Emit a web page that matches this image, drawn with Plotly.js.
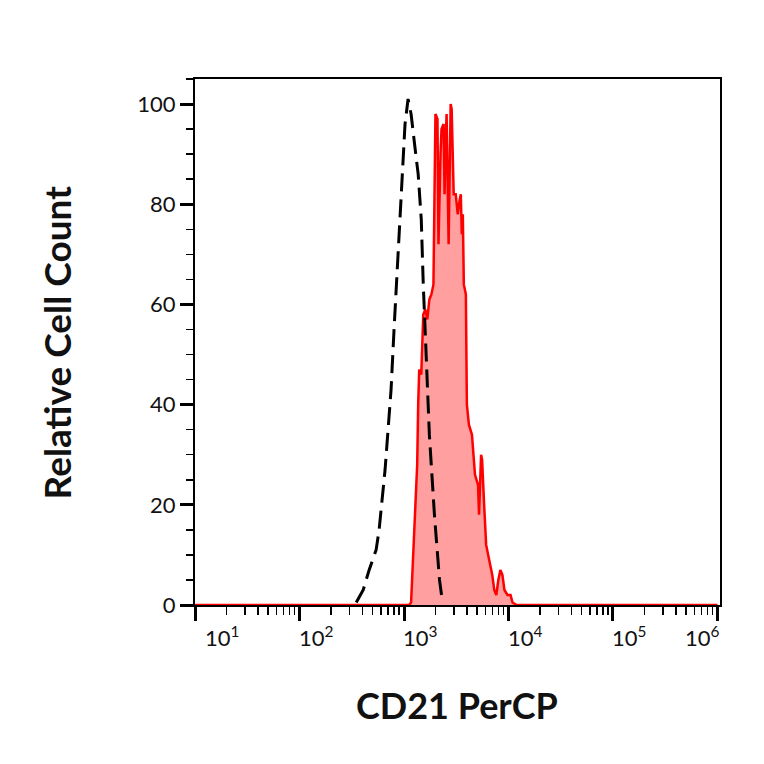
<!DOCTYPE html>
<html>
<head>
<meta charset="utf-8">
<script src="https://cdn.plot.ly/plotly-3.0.1.min.js"></script>
<style>html,body{margin:0;padding:0;background:#fff;}#chart{width:764px;height:764px;}</style>
</head>
<body>
<div id="chart"></div>
<script>
// CD21 PerCP stained sample (red filled histogram)
const stainedX = [10, 30, 100, 300, 700, 1000,
  1118, 1169, 1223, 1279, 1337, 1367, 1399, 1463, 1496, 1529,
  1600, 1672, 1749, 1829, 1913, 1956, 2000, 2091, 2138, 2236,
  2286, 2391, 2445, 2500, 2557, 2673, 2734, 2796, 2859, 2924,
  2990, 3126, 3269, 3418, 3495, 3574, 3655, 3738, 3909, 3997,
  4180, 4470, 4780, 5111, 5227, 5466, 5590, 5845, 6113, 6393,
  6685, 6991, 7311, 7645, 7995, 8361, 8743, 9143, 9778, 10457,
  10936, 11960, 20000, 50000, 100000, 300000, 1000000];
const stainedY = [0, 0, 0, 0, 0, 0,
  0, 0.5, 10, 20, 28, 40, 47, 46, 52, 58,
  59, 57, 61, 62, 64, 90, 98, 97, 72, 90,
  95, 96, 82, 92, 98, 72, 90, 100, 99, 88,
  82, 82, 78, 81, 82, 74, 78, 64, 62, 40,
  36, 34, 26, 24, 18, 30, 29, 20, 12, 10,
  8, 6, 3, 2, 5, 7, 6, 3, 2, 2,
  0.5, 0, 0, 0, 0, 0, 0];

// Isotype control (black dashed line)
const controlX = [349, 407, 464, 541, 578, 604, 659, 704, 752, 803, 877, 936,
  1023, 1094, 1169, 1279, 1367, 1463, 1529, 1636, 1749, 1956, 2187, 2338];
const controlY = [0.5, 3, 7, 11, 15, 19, 27, 35, 43, 55, 70, 83,
  96, 101, 98, 91, 86, 77, 64, 49, 34, 18, 5, 0.5];

// Axis ticks and labels
const xMajorTicks = [10, 100, 1000, 10000, 100000, 1000000];
const xTickText = ['10<sup>1</sup>', '10<sup>2</sup>', '10<sup>3</sup>', '10<sup>4</sup>', '10<sup>5</sup>', '10<sup>6</sup>'];
const xLabelPos = [0.0514, 0.2305, 0.4286, 0.6286, 0.8267, 0.9676]; // label centres (paper fraction)
const yMajorTicks = [0, 20, 40, 60, 80, 100];
const yTickText = ['0', '20', '40', '60', '80', '100'];
const xTitle = 'CD21 PerCP';
const yTitle = 'Relative Cell Count';

const xMinorTicks = [];
for (let d = 1; d < 6; d++) {
  for (let k = 2; k <= 9; k++) xMinorTicks.push(k * Math.pow(10, d));
}

const traces = [
  {
    x: stainedX, y: stainedY, type: 'scatter', mode: 'lines',
    line: {color: '#ff0000', width: 2.5},
    fill: 'tozeroy', fillcolor: 'rgba(255,80,80,0.55)',
    hoverinfo: 'skip'
  },
  {
    x: controlX, y: controlY, type: 'scatter', mode: 'lines',
    line: {color: '#000000', width: 3, dash: '18px,8px'},
    hoverinfo: 'skip'
  }
];

const annotations = xTickText.map((t, i) => ({
  text: t, xref: 'paper', yref: 'paper', x: xLabelPos[i], y: -0.028,
  xanchor: 'center', yanchor: 'top', showarrow: false,
  font: {family: 'Lato', size: 22, color: '#111'}
}));
annotations.push({
  text: '<b>' + xTitle + '</b>', xref: 'paper', yref: 'paper', x: 0.499, y: -0.19,
  xanchor: 'center', yanchor: 'middle', showarrow: false,
  font: {family: 'Lato', size: 36, color: '#111'}
});
annotations.push({
  text: '<b>' + yTitle + '</b>', xref: 'paper', yref: 'paper', x: -0.264, y: 0.5,
  xanchor: 'center', yanchor: 'middle', showarrow: false, textangle: -90,
  font: {family: 'Lato', size: 37, color: '#111'}
});

const layout = {
  width: 764, height: 764,
  margin: {l: 195, r: 44, t: 79, b: 159},
  paper_bgcolor: '#ffffff', plot_bgcolor: '#ffffff',
  showlegend: false,
  font: {family: 'Lato', color: '#111'},
  xaxis: {
    type: 'log', range: [1, 6.024], showgrid: false, zeroline: false,
    showline: true, linecolor: '#000', linewidth: 2, mirror: true,
    tickmode: 'array', tickvals: xMajorTicks, showticklabels: false,
    ticks: 'outside', ticklen: 14, tickwidth: 3, tickcolor: '#000',
    minor: {tickmode: 'array', tickvals: xMinorTicks, ticks: 'outside', ticklen: 8, tickwidth: 1.5, tickcolor: '#000', showgrid: false}
  },
  yaxis: {
    range: [0, 105], showgrid: false, zeroline: false,
    showline: true, linecolor: '#000', linewidth: 2, mirror: true,
    tickmode: 'array', tickvals: yMajorTicks, ticktext: yTickText,
    ticks: 'outside', ticklen: 13, tickwidth: 3, tickcolor: '#000',
    tickfont: {family: 'Lato', size: 22, color: '#111'},
    minor: {dtick: 5, ticks: 'outside', ticklen: 7, tickwidth: 1.5, tickcolor: '#000', showgrid: false}
  },
  annotations: annotations
};

Plotly.newPlot('chart', traces, layout, {staticPlot: true, displayModeBar: false});
</script>
</body>
</html>
